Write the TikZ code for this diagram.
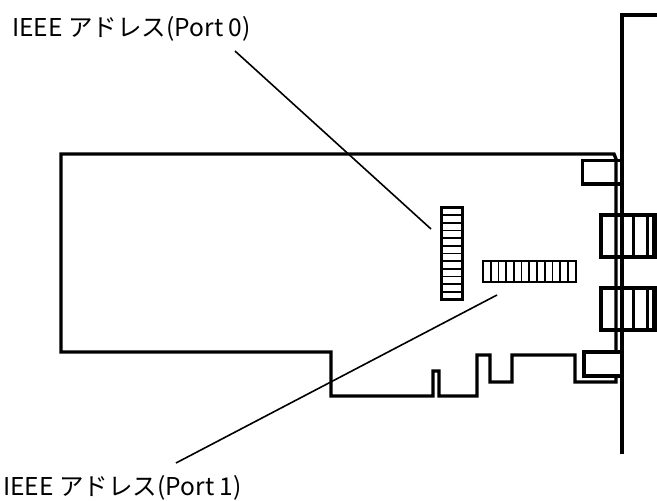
\documentclass[tikz,border=0pt]{standalone}
\usepackage{fontspec}
\setmainfont{Noto Sans CJK JP}
\begin{document}
\begin{tikzpicture}[x=0.75pt,y=-0.75pt,
  outline/.style={line width=2.5pt,line join=miter,line cap=butt},
  grid part/.style={line width=1.3pt},
  leader/.style={line width=1.2pt},
  chip/.style={draw,line width=1.6pt,outer sep=0pt,inner sep=0pt,anchor=north west},
  lbl/.style={inner sep=0pt,anchor=base west,font=\fontsize{18.4pt}{20pt}\selectfont}]
\useasboundingbox (0,0) rectangle (657,500);
% bracket
\draw[outline] (657,15) -- (622,15) -- (622,454);
% board outline
\draw[outline] (616,352) -- (616,159) -- (614,154) -- (61,154) -- (61,352) -- (331,352) -- (331,396)
  -- (433,396) -- (433,371) -- (439,371) -- (439,396) -- (477,396) -- (477,355) -- (490,355)
  -- (490,382) -- (512,382) -- (512,355) -- (575,355) -- (575,382) -- (616,382) -- (616,376);
% small tabs
\draw[outline] (622,160.5) -- (582.5,160.5) -- (582.5,184) -- (622,184);
\draw[outline] (622,352) -- (584,352) -- (584,376) -- (622,376);
% connectors
\foreach \t/\b in {215/257,288/330}{
  \draw[line width=3pt] (657,\t) -- (601,\t) -- (601,\b) -- (657,\b);
  \foreach \x in {633.5,647.5}{\draw[outline] (\x,\t) -- (\x,\b);}
  \fill (652,\t) rectangle (657,\b);
}
% chips
\node[chip,minimum width=15.75pt,minimum height=69pt] (chipA) at (441.5,207.5) {};
\foreach \i in {1,...,11}{\draw[grid part] (441.5,207.5+7.67*\i) -- (462.5,207.5+7.67*\i);}
\node[chip,minimum width=69.5pt,minimum height=15.75pt] (chipB) at (483,261) {};
\foreach \i in {1,...,11}{\draw[grid part] (483+7.72*\i,261) -- (483+7.72*\i,282);}
% labels
\node[lbl] (labA) at (12,36) {IEEE アドレス(Port 0)};
\node[lbl] (labB) at (3,495) {IEEE アドレス(Port 1)};
% leaders
\coordinate (endA) at (431,229);
\coordinate (startA) at (235,51);
\coordinate (endB) at (497,295);
\coordinate (startB) at (176,463);
\draw[leader] (startA) -- (endA);
\draw[leader] (startB) -- (endB);
\end{tikzpicture}
\end{document}
